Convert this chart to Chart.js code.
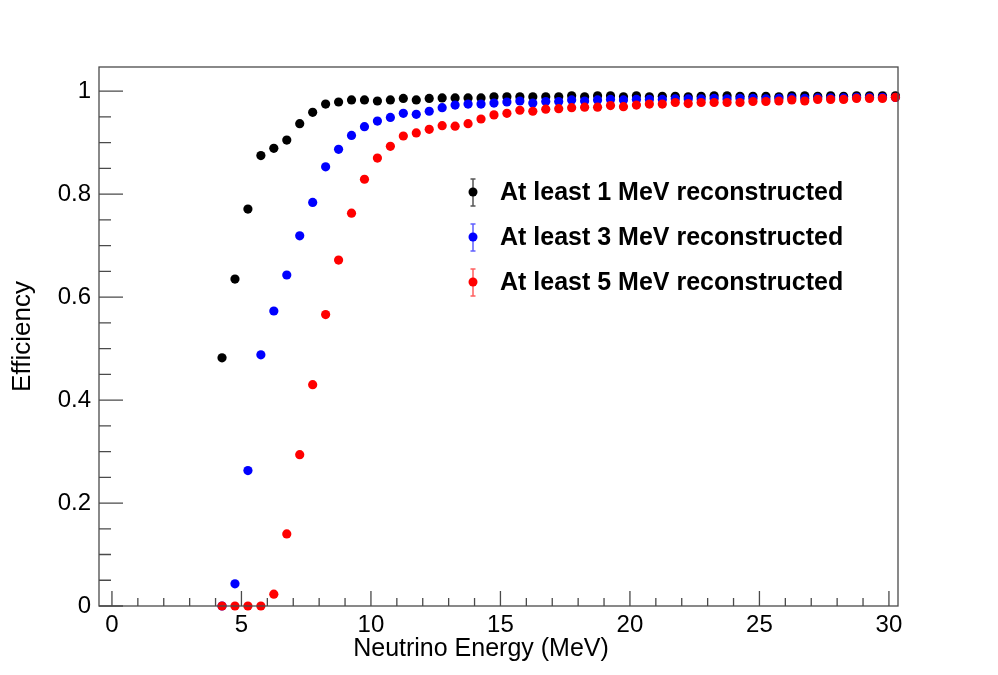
<!DOCTYPE html>
<html>
<head>
<meta charset="utf-8">
<title>Efficiency vs Neutrino Energy</title>
<script src="https://cdn.jsdelivr.net/npm/chart.js@4.4.1/dist/chart.umd.min.js"></script>
<style>
  html, body { margin: 0; padding: 0; background: #fff; }
  #wrap { width: 998px; height: 675px; }
</style>
</head>
<body>
<div id="wrap"><canvas id="effChart" width="998" height="675"></canvas></div>
<script>
// bin centres (MeV)
const energies = [
    4.25, 4.75, 5.25, 5.75, 6.25, 6.75, 7.25, 7.75, 8.25, 8.75,
    9.25, 9.75, 10.25, 10.75, 11.25, 11.75, 12.25, 12.75, 13.25, 13.75,
    14.25, 14.75, 15.25, 15.75, 16.25, 16.75, 17.25, 17.75, 18.25, 18.75,
    19.25, 19.75, 20.25, 20.75, 21.25, 21.75, 22.25, 22.75, 23.25, 23.75,
    24.25, 24.75, 25.25, 25.75, 26.25, 26.75, 27.25, 27.75, 28.25, 28.75,
    29.25, 29.75, 30.25
];

// efficiencies
const eff1MeV = [
    0.482, 0.635, 0.771, 0.875, 0.889, 0.905, 0.937, 0.959, 0.975, 0.979,
    0.983, 0.983, 0.981, 0.983, 0.986, 0.983, 0.986, 0.987, 0.987, 0.987,
    0.987, 0.989, 0.989, 0.989, 0.989, 0.989, 0.989, 0.991, 0.989, 0.991,
    0.991, 0.989, 0.991, 0.989, 0.990, 0.990, 0.989, 0.990, 0.991, 0.991,
    0.990, 0.990, 0.990, 0.989, 0.991, 0.991, 0.990, 0.991, 0.990, 0.991,
    0.991, 0.991, 0.991
];
const eff3MeV = [
    0.000, 0.043, 0.263, 0.488, 0.573, 0.643, 0.719, 0.784, 0.853, 0.887,
    0.914, 0.931, 0.942, 0.949, 0.957, 0.955, 0.961, 0.968, 0.973, 0.975,
    0.975, 0.977, 0.979, 0.981, 0.977, 0.980, 0.980, 0.983, 0.981, 0.983,
    0.984, 0.983, 0.984, 0.984, 0.984, 0.985, 0.985, 0.985, 0.986, 0.985,
    0.986, 0.986, 0.985, 0.986, 0.987, 0.986, 0.987, 0.987, 0.987, 0.988,
    0.988, 0.988, 0.988
];
const eff5MeV = [
    0.000, 0.000, 0.000, 0.000, 0.023, 0.140, 0.294, 0.430, 0.566, 0.672,
    0.763, 0.829, 0.870, 0.893, 0.913, 0.919, 0.926, 0.933, 0.932, 0.937,
    0.946, 0.954, 0.957, 0.963, 0.961, 0.965, 0.966, 0.968, 0.969, 0.969,
    0.972, 0.970, 0.973, 0.975, 0.975, 0.978, 0.976, 0.978, 0.978, 0.978,
    0.978, 0.980, 0.980, 0.981, 0.983, 0.981, 0.984, 0.984, 0.984, 0.986,
    0.986, 0.986, 0.988
];

const seriesLabels = [
    "At least 1 MeV reconstructed",
    "At least 3 MeV reconstructed",
    "At least 5 MeV reconstructed"
];
const yTickValues = [0, 0.2, 0.4, 0.6, 0.8, 1];
const xTickValues = [0, 5, 10, 15, 20, 25, 30];

const FONT = "'Liberation Sans', Arial, Helvetica, sans-serif";

function toPoints(ys) {
    return energies.map((e, i) => ({ x: e, y: ys[i] }));
}

// ROOT style frame, inward ticks, legend and x title
const rootFrame = {
    id: "rootFrame",
    afterDraw(chart) {
        const ctx = chart.ctx;
        const a = chart.chartArea;
        const xs = chart.scales.x, ys = chart.scales.y;
        ctx.save();
        ctx.strokeStyle = "#4a4a4a";
        ctx.lineWidth = 1.3;
        ctx.strokeRect(a.left, a.top, a.right - a.left, a.bottom - a.top);

        ctx.beginPath();
        // y ticks: major every 0.2, minor every 0.05
        for (let k = 0; k <= 20; k++) {
            const v = k * 0.05;
            const py = ys.getPixelForValue(v);
            const len = (k % 4 === 0) ? 24 : 12;
            ctx.moveTo(a.left, py);
            ctx.lineTo(a.left + len, py);
        }
        // x ticks: major every 5, minor every 1
        for (let v = 0; v <= 30; v++) {
            const px = xs.getPixelForValue(v);
            const len = (v % 5 === 0) ? 15 : 8;
            ctx.moveTo(px, a.bottom);
            ctx.lineTo(px, a.bottom - len);
        }
        ctx.stroke();

        // x axis title
        ctx.fillStyle = "#000";
        ctx.font = "25px " + FONT;
        ctx.textAlign = "center";
        ctx.textBaseline = "middle";
        ctx.fillText("Neutrino Energy (MeV)", 481, 649);

        // legend
        const cols = ["#000000", "#0000ff", "#ff0000"];
        const barCols = ["#555555", "#6060ff", "#ff6060"];
        const rows = [193, 238, 283];
        const mx = 473;
        ctx.font = "bold 25px " + FONT;
        ctx.textAlign = "left";
        rows.forEach((ry, i) => {
            ctx.strokeStyle = barCols[i];
            ctx.lineWidth = 1.5;
            ctx.beginPath();
            ctx.moveTo(mx, ry - 14); ctx.lineTo(mx, ry + 13);
            ctx.moveTo(mx - 2.5, ry - 14); ctx.lineTo(mx + 2.5, ry - 14);
            ctx.moveTo(mx - 2.5, ry + 13); ctx.lineTo(mx + 2.5, ry + 13);
            ctx.stroke();
            ctx.fillStyle = cols[i];
            ctx.beginPath();
            ctx.arc(mx, ry - 1, 4.5, 0, Math.PI * 2);
            ctx.fill();
            ctx.fillStyle = "#000";
            ctx.fillText(seriesLabels[i], 500, ry);
        });
        ctx.restore();
    }
};

const ctx = document.getElementById("effChart").getContext("2d");
const effChart = new Chart(ctx, {
    type: "scatter",
    data: {
        datasets: [
            {
                label: seriesLabels[0],
                data: toPoints(eff1MeV),
                backgroundColor: "#000000",
                borderWidth: 0,
                pointRadius: 4.6,
                order: 3,
                clip: false
            },
            {
                label: seriesLabels[1],
                data: toPoints(eff3MeV),
                backgroundColor: "#0000ff",
                borderWidth: 0,
                pointRadius: 4.6,
                order: 2,
                clip: false
            },
            {
                label: seriesLabels[2],
                data: toPoints(eff5MeV),
                backgroundColor: "#ff0000",
                borderWidth: 0,
                pointRadius: 4.6,
                order: 1,
                clip: false
            }
        ]
    },
    options: {
        responsive: false,
        animation: false,
        layout: { padding: { left: 0, right: 100, top: 67, bottom: 0 } },
        plugins: {
            legend: { display: false },
            tooltip: { enabled: false }
        },
        scales: {
            x: {
                type: "linear",
                min: -0.5,
                max: 30.35,
                afterFit: s => { s.height = 69; },
                afterBuildTicks: s => { s.ticks = xTickValues.map(v => ({ value: v })); },
                grid: { display: false, drawTicks: false },
                border: { display: false },
                ticks: {
                    padding: 7,
                    color: "#000",
                    font: { family: FONT, size: 24, lineHeight: 1 },
                    maxRotation: 0,
                    callback: v => String(v)
                }
            },
            y: {
                min: 0,
                max: 1.047,
                afterFit: s => { s.width = 99; },
                afterBuildTicks: s => { s.ticks = yTickValues.map(v => ({ value: v })); },
                grid: { display: false, drawTicks: false },
                border: { display: false },
                ticks: {
                    padding: 8,
                    color: "#000",
                    font: { family: FONT, size: 24, lineHeight: 1 },
                    callback: v => String(+v.toFixed(1))
                },
                title: {
                    display: true,
                    text: "Efficiency",
                    color: "#000",
                    font: { family: FONT, size: 26, lineHeight: 1 },
                    padding: { top: 10, bottom: 0 }
                }
            }
        }
    },
    plugins: [rootFrame]
});
</script>
</body>
</html>
